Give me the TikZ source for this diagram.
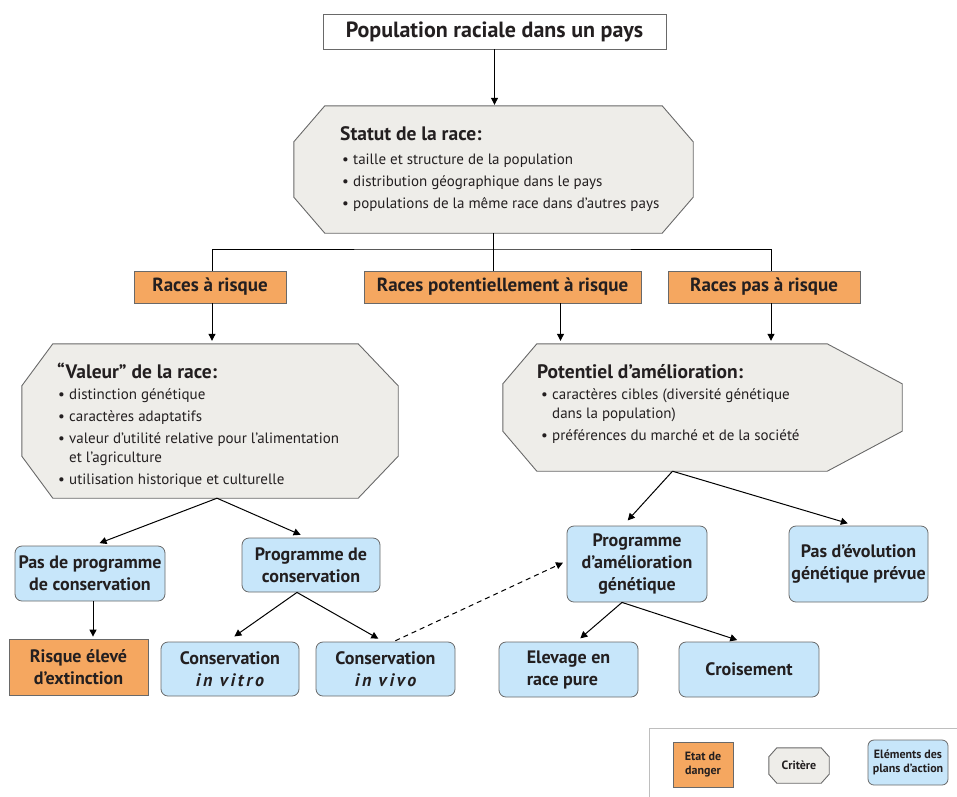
\documentclass[tikz,border=0pt]{standalone}
\usepackage{fontspec}
\setmainfont{PT Sans}
\usepackage{tikz}
\usetikzlibrary{arrows.meta}

\definecolor{orangerisque}{RGB}{245,167,96}
\definecolor{bleuaction}{RGB}{199,230,250}
\definecolor{griscritere}{RGB}{238,237,233}
\definecolor{grisbord}{RGB}{105,105,105}
\definecolor{grislegende}{RGB}{190,190,190}
\definecolor{encre}{RGB}{35,31,32}

\newcommand{\puce}{\makebox[11pt][l]{\textbullet}}
\newcommand{\retrait}{\hspace*{11pt}}
\newcommand{\espace}[1]{{\itshape\addfontfeature{LetterSpace=15}#1}}
% octagone autour d'un noeud : noeud, biseau gauche, biseau droit, biseau vertical
\newcommand{\octogone}[4]{%
  \filldraw[fill=griscritere, draw=grisbord, line width=0.9pt]
    ([xshift=#2]#1.north west) -- ([xshift=-#3]#1.north east)
    -- ([yshift=-#4]#1.north east) -- ([yshift=#4]#1.south east)
    -- ([xshift=-#3]#1.south east) -- ([xshift=#2]#1.south west)
    -- ([yshift=#4]#1.south west) -- ([yshift=-#4]#1.north west) -- cycle;}

\begin{document}
\begin{tikzpicture}[x=1pt,y=-1pt,
  every node/.style={text=encre, inner sep=0pt},
  titre/.style={draw=grisbord, fill=white, line width=0.8pt, font=\bfseries\fontsize{22}{26}\selectfont},
  danger/.style={draw=grisbord, fill=orangerisque, line width=0.8pt, align=center, font=\bfseries\fontsize{19}{22}\selectfont},
  action/.style={draw=grisbord, fill=bleuaction, line width=0.8pt, rounded corners=7pt, align=center, font=\bfseries\fontsize{18}{22}\selectfont},
  entete/.style={anchor=base west, font=\bfseries\fontsize{19.5}{22}\selectfont},
  liste/.style={anchor=north west, align=left, font=\fontsize{15}{19.5}\selectfont},
  fleche/.style={line width=1pt, -{Triangle[length=7pt,width=7pt]}},
  lien/.style={line width=1pt},
]
\useasboundingbox (0,0) rectangle (957,796);

% haut du schema
\node[titre, minimum width=343, minimum height=35] (pop) at (494.5,31.5) {Population raciale dans un pays};

\node[minimum width=399, minimum height=127] (statut) at (493.5,169.5) {};
\octogone{statut}{31}{31}{36}
\node[entete] (statut-titre) at (340,140) {Statut de la race:};
\node[liste] (statut-liste) at (342,154) {\puce taille et structure de la population\\[2.5pt]
  \puce distribution géographique dans le pays\\[2.5pt]
  \puce populations de la même race dans d’autres pays};

% etats de danger
\node[danger, minimum width=152, minimum height=32] (risque) at (210,287) {Races à risque};
\node[danger, minimum width=277, minimum height=32] (pot) at (502.5,287) {Races potentiellement à risque};
\node[danger, minimum width=192, minimum height=32] (pasrisque) at (764,287) {Races pas à risque};

% criteres
\node[minimum width=376, minimum height=154] (valeur) at (210,421) {};
\octogone{valeur}{31}{40}{42}
\node[entete] (valeur-titre) at (57,378) {“Valeur” de la race:};
\node[liste] (valeur-liste) at (58,388) {\puce distinction génétique\\[2.5pt]
  \puce caractères adaptatifs\\[2.5pt]
  \puce valeur d’utilité relative pour l’alimentation\\
  \retrait et l’agriculture\\[2.5pt]
  \puce utilisation historique et culturelle};

\node[minimum width=399, minimum height=127] (amelio) at (702.5,407.5) {};
\octogone{amelio}{34}{75}{40}
\node[entete] (amelio-titre) at (537,378) {Potentiel d’amélioration:};
\node[liste] (amelio-liste) at (541,388) {\puce caractères cibles (diversité génétique\\
  \retrait dans la population)\\[2.5pt]
  \puce préférences du marché et de la société};

% elements des plans d'action
\node[action, minimum width=150, minimum height=55] (pasprog) at (90,573.5) {Pas de programme\\de conservation};
\node[action, minimum width=138, minimum height=54] (progcons) at (311,565) {Programme de\\conservation};
\node[danger, font=\bfseries\fontsize{18}{22}\selectfont, minimum width=139, minimum height=56] (extinction) at (78.5,667) {Risque élevé\\d’extinction};
\node[action, minimum width=138, minimum height=54] (vitro) at (230,669) {Conservation\\\espace{in vitro}};
\node[action, minimum width=139, minimum height=54] (vivo) at (385.5,669) {Conservation\\\espace{in vivo}};
\node[action, minimum width=140, minimum height=76] (progamel) at (637,564) {Programme\\d’amélioration\\génétique};
\node[action, minimum width=139, minimum height=76] (pasevol) at (858.5,564) {Pas d’évolution\\génétique prévue};
\node[action, align=left, minimum width=139, minimum height=55] (elevage) at (568.5,669.5) {Elevage en\\race pure};
\node[action, minimum width=140, minimum height=55] (croisement) at (749,669.5) {Croisement};

% liaisons
\draw[fleche, shorten >=1pt] (pop.south) -- (pop.south |- statut.north);
\coordinate (embranchement) at (493,249);
\draw[lien] (embranchement |- statut.south) -- (embranchement |- pot.north);
\draw[lien] ([xshift=2pt]risque.north) |- (embranchement) -| ([xshift=7pt]pasrisque.north);
\draw[fleche, shorten >=3pt] ([xshift=2pt]risque.south) -- ([xshift=2pt]risque.south |- valeur.north);
\draw[fleche, shorten >=3pt] ([xshift=58pt]pot.south) -- ([xshift=58pt]pot.south |- amelio.north);
\draw[fleche, shorten >=3pt] ([xshift=7pt]pasrisque.south) -- ([xshift=7pt]pasrisque.south |- amelio.north);

\draw[fleche, shorten >=7pt] ([xshift=7pt]valeur.south) -- ([xshift=3pt]pasprog.north);
\draw[fleche, shorten >=7pt] ([xshift=7pt]valeur.south) -- ([xshift=-4pt]progcons.north);
\draw[fleche, shorten >=2pt] ([xshift=3pt]pasprog.south) -- ([xshift=3pt]pasprog.south |- extinction.north);
\draw[fleche, shorten >=9pt] ([xshift=-14pt]progcons.south) -- ([xshift=-3pt]vitro.north);
\draw[fleche, shorten >=6pt] ([xshift=-14pt]progcons.south) -- ([xshift=-2pt]vivo.north);
\draw[fleche, dashed, dash pattern=on 5pt off 4pt, shorten <=2pt, shorten >=4pt] ([xshift=8pt]vivo.north) -- ([yshift=3pt]progamel.west);

\draw[fleche, shorten >=7pt] ([xshift=-30pt]amelio.south) -- ([xshift=-14pt]progamel.north);
\draw[fleche, shorten >=8pt] ([xshift=-30pt]amelio.south) -- ([xshift=-3pt]pasevol.north);
\draw[fleche, shorten >=5pt] ([xshift=-15pt]progamel.south) -- ([xshift=8pt]elevage.north);
\draw[fleche, shorten >=5pt] ([xshift=-15pt]progamel.south) -- ([xshift=-7pt]croisement.north);

% legende
\node[draw=grislegende, line width=0.8pt, anchor=north west, minimum width=320, minimum height=80] (legende) at (649,728) {};
\node[danger, font=\bfseries\fontsize{12}{14.5}\selectfont, minimum width=60, minimum height=45] (etat) at (703,764.5) {Etat de\\danger};
\node[minimum width=60, minimum height=35] (crit) at (799,765.5) {};
\octogone{crit}{8}{8}{9}
\node[font=\bfseries\fontsize{12}{14}\selectfont] (crit-txt) at (crit) {Critère};
\node[action, rounded corners=6pt, font=\bfseries\fontsize{12}{14.5}\selectfont, minimum width=80, minimum height=45] (plans) at (908,762.5) {Eléments des\\plans d’action};
\end{tikzpicture}
\end{document}
